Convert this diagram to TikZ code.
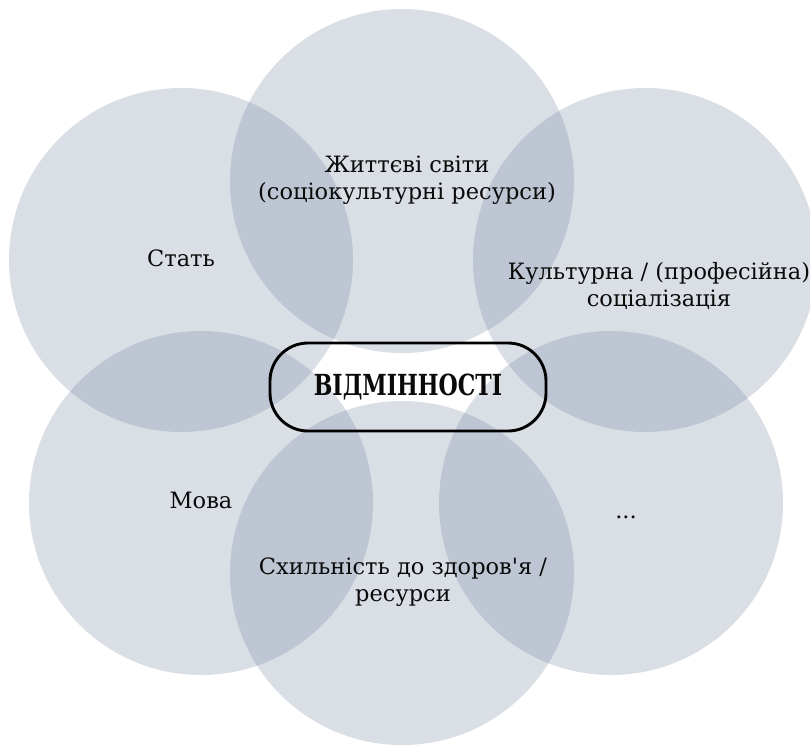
\documentclass[tikz,border=0pt]{standalone}
\usepackage{fontspec}
\setmainfont{DejaVu Serif}
\newfontfamily\boxfont{DejaVu Serif}[FakeStretch=0.76]
\definecolor{circfill}{RGB}{122,136,162}
\definecolor{txt}{RGB}{10,10,10}
\begin{document}
\begin{tikzpicture}[x=1pt,y=-1pt,
  circ/.style={circle, inner sep=0pt, minimum size=344pt, fill=circfill, fill opacity=0.28, draw=none},
  lbl/.style={font=\fontsize{22.5}{26.5}\selectfont, align=center, text=txt, inner sep=0pt},
  centerbox/.style={draw=black, line width=2.9pt, rounded corners=38pt, minimum width=276pt, minimum height=88pt, font=\boxfont\bfseries\fontsize{29}{32}\selectfont, text=txt}]
\useasboundingbox (0,0) rectangle (810,745);
\node[circ] (ctop) at (402,181) {};
\node[circ] (clt) at (181,260) {};
\node[circ] (crt) at (645,260) {};
\node[circ] (clb) at (201,503) {};
\node[circ] (crb) at (611,503) {};
\node[circ] (cbot) at (402,573) {};
\node[lbl] (ttop) at (407,180) {Життєві світи\\(соціокультурні ресурси)};
\node[lbl] (tlt) at (181,258) {Стать};
\node[lbl] (trt) at (659,286) {Культурна / (професійна)\\соціалізація};
\node[lbl] (tlb) at (201,500) {Мова};
\node[lbl] (trb) at (626,517) {...};
\node[lbl] (tbot) at (403,582) {Схильність до здоров\textquotesingle я /\\ресурси};
\node[centerbox] (main) at (408,387) {ВІДМІННОСТІ};
\end{tikzpicture}
\end{document}
